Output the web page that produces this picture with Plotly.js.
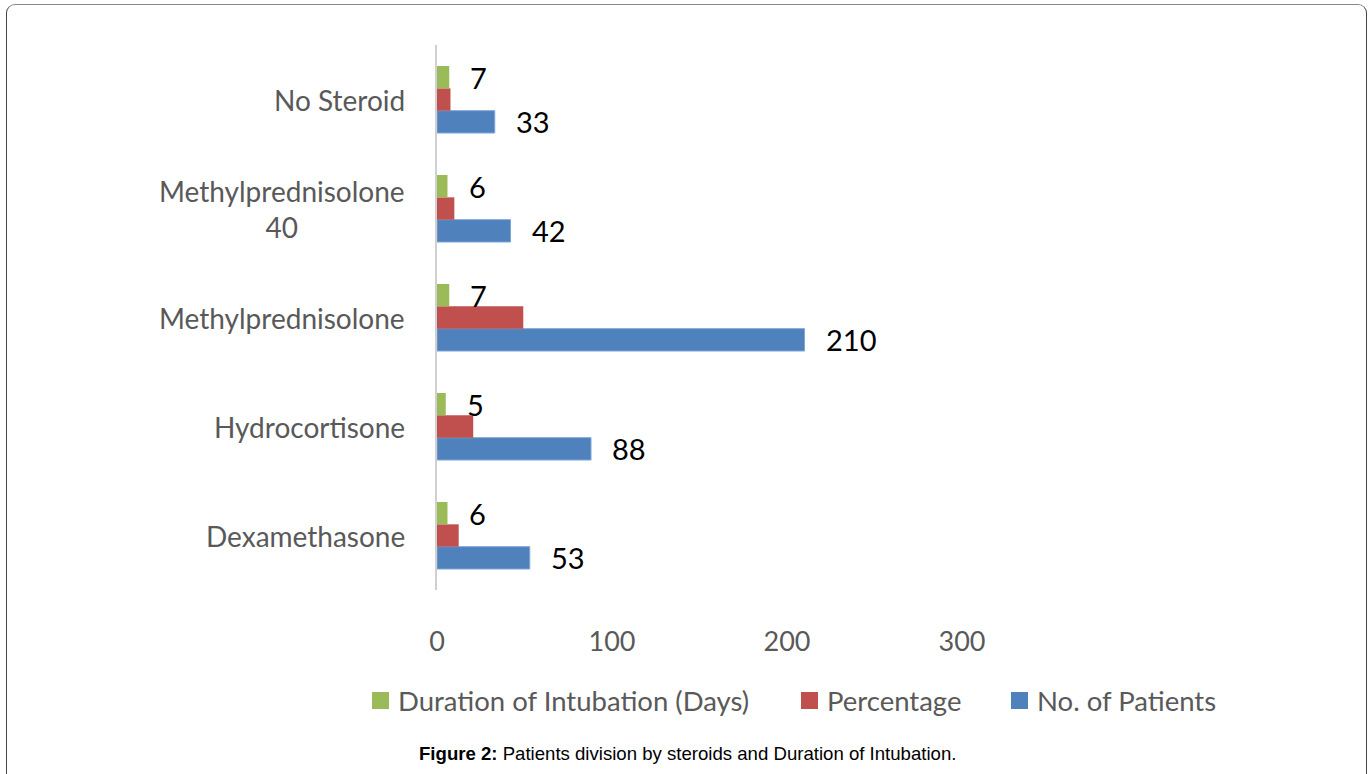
<!DOCTYPE html>
<html><head><meta charset="utf-8">
<script src="https://cdn.plot.ly/plotly-3.0.1.min.js"></script>
<style>
html,body{margin:0;padding:0;background:#fff;}
#wrap{position:relative;width:1370px;height:774px;overflow:hidden;}
#frame{position:absolute;left:6px;top:4px;width:1361px;height:800px;border:1.5px solid #444;border-top-color:#888;border-radius:9px;box-sizing:border-box;pointer-events:none;z-index:2;}
#chart{position:absolute;left:0;top:0;width:1370px;height:774px;}
</style></head>
<body>
<div id="wrap"><div id="chart"></div><div id="frame"></div></div>
<script>
const categories = ["Dexamethasone","Hydrocortisone","Methylprednisolone","Methylprednisolone 40","No Steroid"];
const categoryLabels = ["Dexamethasone","Hydrocortisone","Methylprednisolone","Methylprednisolone<br>40","No Steroid"];
const patients = [53, 88, 210, 42, 33];
const percentage = [12.4, 20.7, 49.3, 9.9, 7.7];
const duration = [6, 5, 7, 6, 7];
const seriesNames = ["No. of Patients","Percentage","Duration of Intubation (Days)"];
const seriesColors = ["#4F81BD","#C0504D","#9BBB59"];
const xTicks = [0, 100, 200, 300];
const caption = "<b>Figure 2:</b> Patients division by steroids and Duration of Intubation.";

const FONT = "Lato, 'Open Sans', sans-serif";
const GREY = "#595959";

// plot area in pixels (for converting legend/caption placement to paper coords)
const PL = 437, PR = 962, PT = 45, PB = 590;
const px = v => (v - PL) / (PR - PL);
const py = v => (PB - v) / (PB - PT);

const traces = [
  {type:'bar', orientation:'h', name:seriesNames[0], x:patients, y:categories,
   marker:{color:seriesColors[0], line:{color:'#7FA6D6', width:1}}, hoverinfo:'x'},
  {type:'bar', orientation:'h', name:seriesNames[1], x:percentage, y:categories,
   marker:{color:seriesColors[1]}, hoverinfo:'x'},
  {type:'bar', orientation:'h', name:seriesNames[2], x:duration, y:categories,
   marker:{color:seriesColors[2]}, hoverinfo:'x'}
];

const annotations = [];
const shapes = [];
categories.forEach((c,i)=>{
  annotations.push({xref:'paper', yref:'y', x:0, y:c, xanchor:'right', yanchor:'middle',
    xshift:-30, text:categoryLabels[i], align:'center', showarrow:false,
    font:{family:FONT, size:28, color:GREY}});
  annotations.push({xref:'x', yref:'y', x:patients[i], y:c, xanchor:'left', yanchor:'middle',
    xshift:19, yshift:-22, text:String(patients[i]), showarrow:false,
    font:{family:FONT, size:29, color:'#000'}});
  annotations.push({xref:'x', yref:'y', x:duration[i], y:c, xanchor:'left', yanchor:'middle',
    xshift:19, yshift:22, text:String(duration[i]), showarrow:false,
    font:{family:FONT, size:29, color:'#000'}});
});

// custom legend (order: Duration, Percentage, No. of Patients)
const legendOrder = [2, 1, 0];
const legendSquareX = [372, 801, 1011];
legendOrder.forEach((s, k)=>{
  const x0 = legendSquareX[k];
  shapes.push({type:'rect', xref:'paper', yref:'paper', x0:px(x0), x1:px(x0+17), y0:py(709), y1:py(692),
    fillcolor:seriesColors[s], line:{width:0}});
  annotations.push({xref:'paper', yref:'paper', x:px(x0+24), y:py(700), xanchor:'left', yanchor:'middle',
    text:seriesNames[s], showarrow:false, font:{family:FONT, size:27.5, color:GREY}});
});

annotations.push({xref:'paper', yref:'paper', x:px(687), y:py(753), xanchor:'center', yanchor:'middle',
  text:caption, showarrow:false, font:{family:"'Liberation Sans', Arial, sans-serif", size:18.6, color:'#000'}});

const layout = {
  width:1370, height:774,
  margin:{l:PL, r:1370-PR, t:PT, b:774-PB},
  paper_bgcolor:'#fff', plot_bgcolor:'#fff',
  barmode:'group', bargap:0.385, bargroupgap:0,
  showlegend:false,
  xaxis:{range:[0,300], tickvals:xTicks, ticktext:xTicks.map(String), showgrid:false, zeroline:false,
    showline:false, ticks:'outside', ticklen:0, ticklabelstandoff:28,
    tickfont:{family:FONT, size:27, color:GREY}, fixedrange:true},
  yaxis:{type:'category', categoryarray:categories, showticklabels:false, showgrid:false,
    zeroline:false, showline:true, linecolor:'#D0D0D0', linewidth:2, range:[-0.5,4.5], fixedrange:true},
  annotations:annotations,
  shapes:shapes
};
Plotly.newPlot('chart', traces, layout, {displayModeBar:false, staticPlot:true});
</script>
</body></html>
